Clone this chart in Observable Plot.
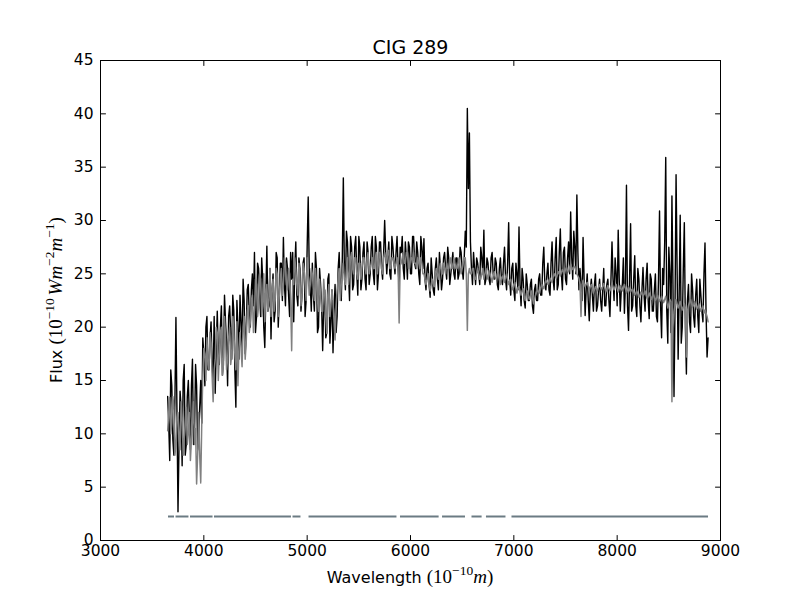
<!DOCTYPE html>
<html><head><meta charset="utf-8">
<script src="https://cdn.jsdelivr.net/npm/d3@7"></script>
<script src="https://cdn.jsdelivr.net/npm/@observablehq/plot@0.6"></script>
<style>html,body{margin:0;padding:0;background:#fff;}</style>
</head><body><div id="chart"></div>
<script>
const title = "CIG 289";
const xTicks = [3000, 4000, 5000, 6000, 7000, 8000, 9000];
const yTicks = [0, 5, 10, 15, 20, 25, 30, 35, 40, 45];
// sampling grid of the spectrum (Angstrom): main samples at 3650+20i, mid samples at 3660+20i
const gridStart = 3650, gridStep = 20, midOffset = 10;
// observed flux (black), main samples, one row per 100 Angstrom
const observedFlux = [
  13.5, 7.5, 14.5, 8.0, 20.9,
  2.7, 14.0, 7.0, 16.5, 9.0,
  15.0, 8.5, 17.0, 10.0, 14.5,
  9.5, 15.0, 19.0, 14.5, 21.0,
  16.0, 20.5, 15.0, 13.8, 21.5,
  16.5, 22.0, 17.0, 20.5, 14.5,
  22.0, 17.0, 21.5, 12.5, 20.0,
  23.0, 18.0, 22.5, 19.5, 24.0,
  20.0, 25.0, 27.0, 21.0, 25.5,
  21.0, 24.5, 18.1, 27.6, 22.0,
  18.9, 25.0, 21.5, 26.5, 22.5,
  26.0, 28.4, 22.0, 25.5, 21.0,
  24.5, 20.5, 28.0, 22.0, 25.5,
  23.0, 26.5, 22.5, 32.2, 24.0,
  26.0, 21.5, 25.5, 20.0, 24.0,
  17.8, 23.5, 19.5, 25.0, 20.5,
  17.6, 24.0, 21.0, 27.0, 22.5,
  34.0, 23.5, 28.0, 22.5, 27.5,
  24.0, 28.5, 23.0, 27.5, 24.5,
  28.0, 23.5, 27.0, 25.0, 28.5,
  24.0, 27.5, 25.0, 28.0, 24.5,
  30.0, 25.0, 28.0, 24.5, 27.5,
  25.0, 28.5, 24.0, 27.0, 25.5,
  28.0, 24.5, 27.5, 25.0, 28.5,
  25.5, 27.0, 24.0, 27.5, 28.3,
  23.5, 26.0, 22.8, 25.0, 23.0,
  26.5, 23.5, 25.5, 24.5, 27.0,
  24.5, 26.5, 25.0, 27.0, 24.5,
  26.5, 25.0, 27.0, 24.5, 29.0,
  40.5, 38.2, 25.5, 27.0, 24.0,
  26.0, 24.0, 26.5, 29.1, 24.5,
  26.0, 24.0, 27.0, 24.5, 26.0,
  23.5, 26.5, 24.0, 27.5, 23.5,
  29.8, 23.0, 26.0, 22.5, 25.0,
  29.4, 22.0, 24.5, 21.8, 24.0,
  22.5, 24.5, 21.3, 24.0, 22.5,
  25.0, 23.0, 27.5, 23.5, 26.0,
  23.0, 28.0, 23.5, 28.4, 24.0,
  29.2, 23.5, 27.5, 24.0, 28.0,
  30.8, 24.5, 27.5, 32.4, 23.5,
  24.0, 28.4, 21.1, 25.0, 20.6,
  24.5, 21.5, 25.0, 22.0, 24.5,
  21.5, 25.5, 22.0, 24.5, 21.0,
  28.0, 22.5, 25.0, 29.1, 21.5,
  24.0, 21.3, 33.3, 19.7, 29.7,
  22.0, 26.7, 21.0, 24.5, 20.5,
  25.6, 21.5, 26.0, 20.8, 24.5,
  21.5, 25.0, 20.5, 30.9, 19.0,
  24.0, 35.9, 18.5, 25.0, 32.3,
  13.5, 34.3, 17.0, 30.5, 20.0,
  29.8, 15.6, 24.0, 19.5, 23.5,
  20.0, 24.5, 19.5, 23.0, 20.5,
  27.9, 17.2
];
// observed flux (black), mid samples
const observedFluxMid = [
  11.0, 16.0, 9.5, 13.0, 12.0,
  9.0, 12.5, 15.0, 8.0, 13.5,
  11.5, 14.5, 9.0, 16.5, 8.5,
  12.5, 11.0, 17.5, 20.0, 16.0,
  19.0, 16.5, 21.0, 18.0, 17.5,
  20.0, 15.5, 23.0, 18.5, 21.0,
  19.5, 23.0, 16.0, 22.5, 17.0,
  20.5, 24.5, 17.5, 23.5, 21.0,
  23.5, 22.0, 19.5, 26.0, 23.0,
  26.5, 20.0, 23.0, 21.5, 25.5,
  23.5, 20.5, 27.0, 20.0, 26.0,
  22.5, 24.0, 26.5, 23.0, 27.0,
  27.0, 25.5, 23.0, 26.5, 21.5,
  26.0, 21.0, 27.5, 25.5, 21.5,
  23.0, 27.0, 19.5, 25.5, 22.0,
  22.0, 19.0, 24.5, 18.5, 23.5,
  21.5, 19.5, 25.5, 23.5, 26.5,
  25.5, 29.0, 25.0, 28.5, 23.5,
  27.5, 25.0, 28.5, 23.5, 27.0,
  24.5, 28.0, 24.0, 27.5, 25.0,
  28.5, 23.5, 28.0, 25.5, 27.0,
  27.0, 26.5, 25.0, 28.5, 26.0,
  27.0, 25.5, 27.5, 28.5, 24.5,
  26.5, 28.0, 25.0, 28.5, 26.0,
  28.0, 25.0, 28.5, 25.5, 24.5,
  25.5, 24.0, 26.5, 23.5, 25.5,
  24.5, 27.0, 23.5, 26.5, 25.5,
  27.5, 24.0, 26.0, 25.0, 26.5,
  24.5, 27.5, 25.5, 26.5, 27.5,
  33.0, 28.0, 24.0, 25.5, 26.5,
  25.0, 27.5, 25.0, 24.0, 26.5,
  24.5, 26.5, 25.0, 26.5, 24.0,
  25.5, 24.5, 26.0, 24.5, 26.0,
  24.5, 25.5, 23.5, 26.0, 23.5,
  24.0, 25.5, 22.5, 25.0, 22.5,
  24.0, 22.0, 23.5, 22.5, 24.5,
  23.0, 26.0, 24.0, 25.0, 23.5,
  26.0, 24.5, 26.5, 23.5, 27.0,
  25.0, 27.0, 24.5, 26.5, 25.0,
  26.5, 29.0, 25.0, 27.0, 25.5,
  22.5, 24.5, 23.5, 22.5, 23.5,
  23.0, 24.0, 21.5, 23.5, 22.5,
  23.5, 22.0, 24.0, 22.5, 24.5,
  24.5, 26.5, 22.0, 24.5, 23.5,
  26.5, 24.0, 22.0, 24.5, 21.5,
  24.5, 22.0, 25.5, 22.0, 23.5,
  23.0, 24.5, 22.5, 25.0, 21.5,
  23.5, 21.0, 24.5, 22.0, 25.5,
  28.0, 21.5, 27.5, 19.5, 24.0,
  22.0, 25.5, 23.0, 18.5, 25.5,
  20.0, 22.5, 20.5, 25.0, 21.0,
  23.0, 21.0, 24.5, 21.5, 25.0,
  21.5, 19.0
];
// model flux (grey), main samples
const modelFlux = [
  10.3, 13.4, 11.0, 12.5, 9.0,
  12.0, 8.5, 11.5, 9.5, 12.5,
  10.0, 7.5, 11.0, 9.0, 5.3,
  12.0, 5.4, 15.5, 17.5, 19.0,
  16.0, 18.5, 13.0, 17.0, 19.5,
  17.5, 20.0, 16.5, 19.0, 17.0,
  20.0, 17.5, 19.5, 16.0, 14.5,
  19.5, 16.3, 21.0, 18.5, 22.0,
  20.5, 23.0, 21.5, 24.0, 22.0,
  24.5, 22.0, 20.5, 24.0, 22.5,
  21.0, 24.5, 22.5, 25.0, 23.0,
  25.5, 24.0, 26.0, 23.5, 25.0,
  17.8, 24.0, 25.5, 23.0, 24.5,
  23.0, 25.5, 22.5, 25.0, 24.0,
  25.0, 22.5, 24.0, 21.5, 23.0,
  21.5, 23.0, 19.4, 24.0, 22.0,
  22.5, 18.8, 23.5, 25.5, 24.0,
  26.0, 24.0, 26.5, 25.0, 27.0,
  25.0, 26.5, 24.5, 26.0, 25.5,
  26.5, 25.0, 27.0, 25.5, 26.5,
  25.5, 27.0, 26.0, 26.5, 25.0,
  27.0, 26.0, 27.2, 25.5, 26.5,
  25.5, 26.5, 20.4, 26.0, 27.0,
  26.0, 27.0, 25.5, 26.5, 27.0,
  26.0, 26.5, 25.5, 26.0, 25.0,
  24.0, 25.0, 23.4, 24.5, 23.8,
  25.5, 24.5, 26.0, 25.0, 25.5,
  26.0, 25.5, 26.5, 25.5, 26.0,
  25.5, 26.5, 25.0, 26.0, 26.5,
  19.7, 25.5, 25.0, 25.5, 24.5,
  25.5, 24.5, 25.0, 24.5, 25.5,
  24.5, 25.0, 24.2, 25.2, 24.5,
  25.0, 24.0, 24.8, 24.2, 25.0,
  24.0, 24.5, 23.5, 24.2, 23.2,
  23.8, 23.0, 23.6, 22.5, 23.4,
  22.6, 23.4, 22.2, 23.0, 23.5,
  23.2, 24.0, 23.6, 24.4, 24.0,
  24.6, 24.2, 25.0, 24.6, 25.2,
  24.8, 25.4, 25.0, 25.6, 25.2,
  25.9, 25.4, 25.7, 25.0, 24.6,
  21.0, 24.4, 23.8, 24.2, 23.4,
  24.0, 23.2, 23.8, 23.4, 24.0,
  23.5, 24.1, 23.3, 23.9, 23.4,
  24.1, 23.5, 24.0, 23.3, 23.9,
  23.4, 24.0, 23.2, 23.8, 23.3,
  23.6, 23.0, 23.4, 22.8, 23.3,
  22.9, 23.4, 22.7, 23.2, 22.6,
  23.1, 22.5, 23.0, 22.4, 22.9,
  22.3, 22.9, 21.8, 22.6, 13.0,
  21.5, 22.6, 21.8, 22.4, 21.6,
  22.2, 17.2, 22.0, 22.6, 21.9,
  22.4, 21.7, 22.2, 21.5, 22.0,
  21.6, 21.0
];
// model flux (grey), mid samples
const modelFluxMid = [
  12.0, 10.0, 13.5, 8.0, 11.5,
  10.0, 13.0, 8.0, 11.0, 9.0,
  12.0, 9.5, 13.0, 10.5, 8.0,
  8.0, 11.0, 18.0, 15.0, 16.5,
  19.5, 15.5, 16.0, 20.0, 15.0,
  19.5, 15.5, 21.0, 16.0, 19.0,
  16.5, 21.0, 17.5, 20.5, 18.0,
  18.0, 20.0, 17.0, 21.5, 19.5,
  22.5, 19.5, 24.5, 21.0, 25.0,
  21.0, 25.0, 23.5, 21.5, 25.5,
  23.5, 21.5, 25.5, 21.0, 24.5,
  23.0, 26.5, 24.0, 25.5, 22.5,
  24.5, 26.5, 24.0, 26.0, 22.0,
  26.0, 24.0, 26.5, 23.0, 25.5,
  23.5, 25.5, 22.5, 24.5, 21.5,
  24.5, 21.0, 23.0, 21.0, 23.5,
  20.5, 22.0, 24.5, 22.5, 25.0,
  24.5, 25.5, 24.0, 26.5, 25.5,
  26.5, 25.0, 26.0, 24.5, 26.5,
  25.5, 26.5, 25.0, 26.0, 25.5,
  26.5, 25.0, 27.0, 25.5, 26.5,
  26.5, 27.0, 25.5, 26.5, 26.0,
  26.0, 25.5, 25.8, 26.5, 26.0,
  27.0, 25.5, 26.5, 26.0, 26.0,
  25.5, 26.0, 26.5, 25.0, 24.5,
  24.5, 24.0, 24.0, 24.0, 25.0,
  25.0, 25.5, 25.0, 26.0, 25.0,
  25.5, 26.0, 25.5, 26.5, 25.5,
  26.0, 25.5, 25.5, 26.5, 25.0,
  25.0, 25.0, 25.5, 24.5, 25.0,
  25.0, 24.5, 25.5, 25.0, 24.8,
  25.3, 24.6, 24.8, 24.6, 25.0,
  24.5, 24.6, 24.4, 24.7, 24.4,
  24.4, 23.8, 24.0, 23.6, 23.7,
  23.4, 23.4, 22.9, 23.1, 22.9,
  23.0, 22.8, 22.6, 23.3, 23.3,
  23.7, 23.8, 24.1, 24.2, 24.4,
  24.3, 24.7, 24.8, 24.9, 25.0,
  25.1, 25.2, 25.4, 25.3, 25.6,
  25.6, 25.6, 25.3, 24.8, 24.0,
  24.0, 24.1, 24.0, 23.8, 23.8,
  23.6, 23.5, 23.6, 23.8, 23.7,
  23.8, 23.7, 23.6, 23.6, 23.8,
  23.8, 23.8, 23.6, 23.6, 23.6,
  23.7, 23.6, 23.5, 23.5, 23.5,
  23.3, 23.2, 23.1, 23.0, 23.1,
  23.1, 23.0, 22.9, 22.9, 22.9,
  22.8, 22.7, 22.7, 22.6, 22.6,
  22.6, 22.3, 22.2, 22.4, 20.0,
  22.0, 22.2, 22.1, 22.0, 21.9,
  21.8, 21.5, 22.3, 22.2, 22.1,
  22.0, 21.9, 21.8, 21.8, 21.3,
  21.3, 20.5
];
// fitted-region mask segments drawn near the bottom
const maskStart = [3658, 3731, 3871, 4103, 4863, 5018, 5903, 6310, 6595, 6735, 6982];
const maskEnd   = [3716, 3856, 4089, 4848, 4940, 5869, 6277, 6532, 6693, 6924, 8884];
const maskLevel = 2.25;

function merge(main, mid) {
  const out = [];
  main.forEach((f, i) => {
    out.push({w: gridStart + i * gridStep, f});
    if (i < mid.length) out.push({w: gridStart + i * gridStep + midOffset, f: mid[i]});
  });
  return out;
}
const observed = merge(observedFlux, observedFluxMid);
const model = merge(modelFlux, modelFluxMid);
const mask = maskStart.map((a, i) => ({a, b: maskEnd[i]}));

const tickShape = {draw(context, l) { context.moveTo(0, 0); context.lineTo(0, -l); }};
const tk = {length: 5, anchor: "start", shape: tickShape, stroke: "black", strokeWidth: 1};

const chart = Plot.plot({
  width: 800, height: 600,
  marginLeft: 100, marginRight: 80, marginTop: 60, marginBottom: 60,
  style: {fontFamily: "'DejaVu Sans', sans-serif", fontSize: "15.5px", background: "white", color: "black"},
  x: {domain: [3000, 9000]},
  y: {domain: [0, 45]},
  marks: [
    Plot.line(observed, {x: "w", y: "f", stroke: "black", strokeWidth: 1.4}),
    Plot.line(model, {x: "w", y: "f", stroke: "#808080", strokeWidth: 1.5}),
    Plot.ruleY(mask, {y: maskLevel, x1: "a", x2: "b", stroke: "#6b7b83", strokeWidth: 2}),
    Plot.frame({stroke: "black", strokeWidth: 1}),
    Plot.vector(xTicks, {x: d => d, y: 0, rotate: 0, ...tk}),
    Plot.vector(xTicks, {x: d => d, y: 45, rotate: 180, ...tk}),
    Plot.vector(yTicks, {x: 3000, y: d => d, rotate: 90, ...tk}),
    Plot.vector(yTicks, {x: 9000, y: d => d, rotate: -90, ...tk}),
    Plot.axisX({ticks: xTicks, tickSize: 0, tickPadding: 4, label: null, fontSize: 15.5, tickFormat: d => String(d)}),
    Plot.axisY({ticks: yTicks, tickSize: 0, tickPadding: 7, label: null, fontSize: 15.5, tickFormat: d => String(d)}),
    Plot.text([title], {text: d => d, frameAnchor: "top", lineAnchor: "bottom", dy: -7, fontSize: 19})
  ]
});
document.getElementById("chart").appendChild(chart);

const svg = d3.select(chart);
const serif = "'Liberation Serif', 'DejaVu Serif', serif";
function addMath(sel, parts) {
  for (const p of parts) {
    const t = sel.append("tspan").text(p.t);
    if (p.font) t.attr("font-family", p.font);
    if (p.size) t.attr("font-size", p.size);
    if (p.italic) t.attr("font-style", "italic");
    if (p.dy) t.attr("dy", p.dy);
  }
}
const xl = svg.append("text")
  .attr("x", 410).attr("y", 583).attr("text-anchor", "middle")
  .attr("font-family", "'DejaVu Sans', sans-serif").attr("font-size", 16).attr("fill", "black");
addMath(xl, [
  {t: "Wavelength "},
  {t: "(10", font: serif, size: 19},
  {t: "\u221210", font: serif, size: 13.5, dy: -8},
  {t: "m", font: serif, size: 19, italic: true, dy: 8},
  {t: ")", font: serif, size: 19}
]);
const yl = svg.append("text")
  .attr("transform", "translate(62,300) rotate(-90)").attr("text-anchor", "middle")
  .attr("font-family", "'DejaVu Sans', sans-serif").attr("font-size", 16).attr("fill", "black");
addMath(yl, [
  {t: "Flux "},
  {t: "(10", font: serif, size: 19},
  {t: "\u221210\u2009", font: serif, size: 13.5, dy: -8},
  {t: "Wm", font: serif, size: 19, italic: true, dy: 8},
  {t: "\u22122", font: serif, size: 13.5, dy: -8},
  {t: "m", font: serif, size: 19, italic: true, dy: 8},
  {t: "\u22121", font: serif, size: 13.5, dy: -8},
  {t: ")", font: serif, size: 19, dy: 8}
]);
</script>
</body></html>
